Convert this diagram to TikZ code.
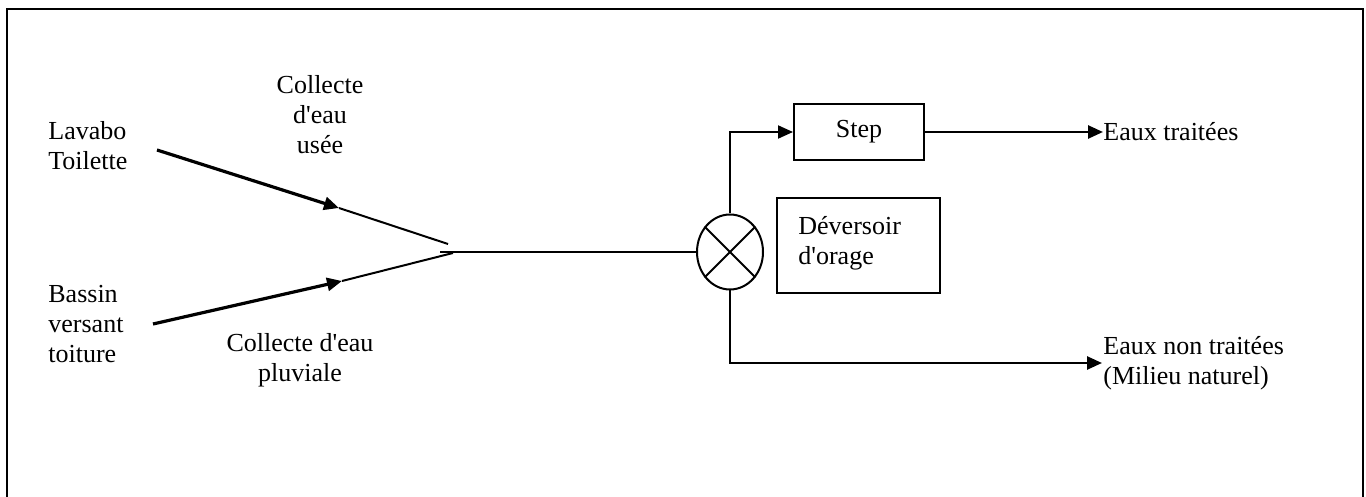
\documentclass[tikz,border=0pt]{standalone}
\usepackage{fontspec}
\setmainfont{Liberation Serif}[Ligatures=TeXOff]
\usetikzlibrary{arrows.meta,shapes.geometric}
\begin{document}
\begin{tikzpicture}[x=0.5pt,y=-0.5pt,
  txt/.style={font=\fontsize{13}{15}\selectfont, inner sep=0pt},
  thinline/.style={line width=1pt},
  thickline/.style={line width=1.6pt},
  tip/.style={-{Triangle[length=7.5pt,width=6.5pt]}},
  boxnode/.style={draw, line width=1pt, inner sep=0pt}]
\clip (0,0) rectangle (1366,497);
\useasboundingbox (0,0) rectangle (1366,497);
% outer frame
\draw[line width=1pt] (7,9) rectangle (1363,530);

% sources (anchored on the baseline of the last line)
\node[txt, anchor=base west, align=left] (lav) at (48,170) {Lavabo\\Toilette};
\node[txt, anchor=base west, align=left] (bas) at (48,363) {Bassin\\versant\\toiture};
\node[txt, anchor=base, align=center] (usee) at (320,154) {Collecte\\d'eau\\usée};
\node[txt, anchor=base, align=center] (pluv) at (300,381) {Collecte d'eau\\pluviale};

% collection pipes
\coordinate (a1) at (157,150);
\coordinate (a2) at (339,208);
\coordinate (a3) at (448,244);
\coordinate (b1) at (153,324);
\coordinate (b2) at (342,281);
\coordinate (b3) at (453,253);
\draw[thickline, tip] (a1) -- (a2);
\draw[thinline] (a2) -- (a3);
\draw[thickline, tip] (b1) -- (b2);
\draw[thinline] (b2) -- (b3);

% storm overflow junction
\node[draw, ellipse, line width=1pt, inner sep=0pt,
      minimum width=33pt, minimum height=37.5pt] (jct) at (730,252) {};
\draw[thinline] (jct.45) -- (jct.225);
\draw[thinline] (jct.135) -- (jct.315);
\coordinate (m) at (440,252);
\draw[thinline] (m) -- (jct.west);

% treatment plant
\node[boxnode, minimum width=65pt, minimum height=28pt, txt, draw] (step) at (859,132) {Step};
\draw[thinline, tip] (jct.north) |- (step.west);
\node[txt, anchor=west] (trt) at (1103,132) {Eaux traitées};
\draw[line width=1.3pt, tip] (step.east) -- (trt.west);

% overflow label box
\node[boxnode, minimum width=81.5pt, minimum height=47.5pt] (dev) at (858.5,245.5) {};
\node[txt, anchor=base west, align=left] (devt) at (798,265) {Déversoir\\d'orage};

% untreated outflow
\node[txt, anchor=base west, align=left] (nt) at (1103,385) {Eaux non traitées\\(Milieu naturel)};
\coordinate (c1) at (1102,363);
\draw[line width=1.3pt, tip] (jct.south) |- (c1);
\end{tikzpicture}
\end{document}
